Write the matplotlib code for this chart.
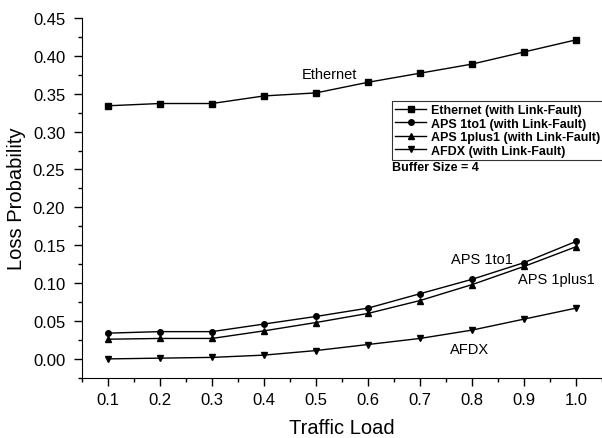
import matplotlib
matplotlib.use("Agg")
import matplotlib.pyplot as plt
from matplotlib.ticker import MultipleLocator

plt.rcParams['font.family'] = ['Liberation Sans', 'DejaVu Sans']

traffic_load = [0.1, 0.2, 0.3, 0.4, 0.5, 0.6, 0.7, 0.8, 0.9, 1.0]
ethernet = [0.334, 0.337, 0.337, 0.347, 0.351, 0.365, 0.377, 0.389, 0.405, 0.421]
aps_1to1 = [0.034, 0.036, 0.036, 0.046, 0.056, 0.067, 0.086, 0.105, 0.127, 0.155]
aps_1plus1 = [0.026, 0.027, 0.027, 0.037, 0.048, 0.060, 0.077, 0.098, 0.122, 0.148]
afdx = [0.000, 0.001, 0.002, 0.005, 0.011, 0.019, 0.027, 0.038, 0.0525, 0.067]

labels = ["Ethernet (with Link-Fault)", "APS 1to1 (with Link-Fault)",
          "APS 1plus1 (with Link-Fault)", "AFDX (with Link-Fault)"]
x_ticks = [0.1, 0.2, 0.3, 0.4, 0.5, 0.6, 0.7, 0.8, 0.9, 1.0]
x_ticklabels = ['0.1', '0.2', '0.3', '0.4', '0.5', '0.6', '0.7', '0.8', '0.9', '1.0']
y_ticks = [0.0, 0.05, 0.1, 0.15, 0.2, 0.25, 0.3, 0.35, 0.4, 0.45]
y_ticklabels = ['0.00', '0.05', '0.10', '0.15', '0.20', '0.25', '0.30', '0.35', '0.40', '0.45']

fig = plt.figure(figsize=(6.02, 4.39), dpi=100)
ax = fig.add_axes([0.136, 0.137, 0.864, 0.82])

ax.plot(traffic_load, ethernet, '-s', color='black', lw=1.0, ms=4, label=labels[0])
ax.plot(traffic_load, aps_1to1, '-o', color='black', lw=1.0, ms=4, label=labels[1])
ax.plot(traffic_load, aps_1plus1, '-^', color='black', lw=1.0, ms=4.5, label=labels[2])
ax.plot(traffic_load, afdx, '-v', color='black', lw=1.0, ms=4.5, label=labels[3])

ax.set_xlim(0.05, 1.05)
ax.set_ylim(-0.025, 0.45)
ax.xaxis.set_minor_locator(MultipleLocator(0.05))
ax.yaxis.set_minor_locator(MultipleLocator(0.025))
ax.set_xticks(x_ticks)
ax.set_xticklabels(x_ticklabels)
ax.set_yticks(y_ticks)
ax.set_yticklabels(y_ticklabels)
ax.tick_params(which='major', direction='out', length=6, width=1, labelsize=12)
ax.tick_params(axis='x', which='major', pad=4)
ax.tick_params(axis='y', which='major', pad=6)
ax.tick_params(which='minor', direction='out', length=3, width=1)

for s in ['top', 'right']:
    ax.spines[s].set_visible(False)

ax.set_xlabel('Traffic Load', fontsize=14.5, labelpad=8)
ax.set_ylabel('Loss Probability', fontsize=14.5, labelpad=5)

leg = ax.legend(loc='upper left', bbox_to_anchor=(0.596, 0.769), frameon=True,
                fancybox=False, edgecolor='black', fontsize=9, handlelength=2.5,
                handletextpad=0.35, borderpad=0.25, labelspacing=0.12, borderaxespad=0)
leg.get_frame().set_linewidth(0.8)
for t in leg.get_texts():
    t.set_fontweight('bold')

ax.text(0.596, 0.586, 'Buffer Size = 4', transform=ax.transAxes, fontsize=9,
        fontweight='bold', va='center', ha='left')

ax.annotate('Ethernet', (0.526, 0.376), fontsize=10.5, ha='center', va='center')
ax.annotate('APS 1to1', (0.82, 0.132), fontsize=10.5, ha='center', va='center')
ax.annotate('APS 1plus1', (0.962, 0.106), fontsize=10.5, ha='center', va='center')
ax.annotate('AFDX', (0.795, 0.013), fontsize=10.5, ha='center', va='center')

fig.savefig('out.png', dpi=100)
